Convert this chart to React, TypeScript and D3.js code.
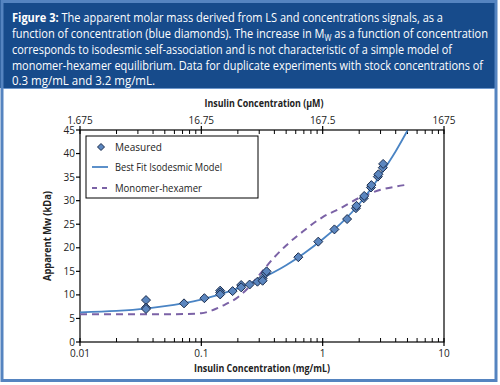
import React from "react";
import * as d3 from "d3";

// ---- data ----
const measuredConc = [0.035, 0.035, 0.035, 0.072, 0.106, 0.143, 0.143, 0.143, 0.181, 0.213, 0.213, 0.25, 0.29, 0.32, 0.32, 0.34, 0.345, 0.63, 0.92, 1.25, 1.59, 1.88, 1.9, 2.18, 2.2, 2.5, 2.52, 2.85, 2.88, 3.13, 3.15];
const measuredMw = [8.9, 7.3, 7.0, 8.2, 9.3, 10.9, 10.5, 10.1, 10.8, 12.1, 11.6, 12.2, 12.8, 13.5, 13.0, 14.6, 15.0, 18.0, 21.3, 23.9, 26.1, 28.4, 28.9, 30.5, 31.0, 32.8, 33.3, 35.1, 35.6, 37.0, 37.8];

const isoConc = [0.01, 0.02, 0.035, 0.05, 0.07, 0.1, 0.15, 0.2, 0.3, 0.5, 0.7, 1.0, 1.5, 2.0, 2.5, 3.0, 4.0, 5.0];
const isoMw = [6.3, 6.6, 7.1, 7.6, 8.2, 9.0, 10.3, 11.4, 13.3, 16.3, 18.8, 21.8, 25.8, 29.3, 32.5, 35.5, 40.5, 44.9];

const hexConc = [0.01, 0.03, 0.06, 0.1, 0.125, 0.15, 0.2, 0.25, 0.3, 0.4, 0.5, 0.69, 0.85, 1.0, 1.4, 2.0, 3.0, 4.0, 5.0];
const hexMw = [5.9, 5.9, 5.9, 6.1, 6.8, 7.7, 9.5, 11.8, 14.2, 18.0, 20.5, 23.5, 25.3, 26.5, 28.4, 30.6, 32.3, 33.0, 33.4];

const yTicks = [0, 5, 10, 15, 20, 25, 30, 35, 40, 45];
const bottomMajor = [0.01, 0.1, 1, 10];
const bottomLabels = ["0.01", "0.1", "1", "10"];
const topMajor = [1.675, 16.75, 167.5, 1675];
const topLabels = ["1.675", "16.75", "167.5", "1675"];
const legendLabels = ["Measured", "Best Fit Isodesmic Model", "Monomer-hexamer"];

const headerLines = [
  "The apparent molar mass derived from LS and concentrations signals, as a",
  "function of concentration (blue diamonds). The increase in M",
  "corresponds to isodesmic self-association and is not characteristic of a simple model of",
  "monomer-hexamer equilibrium. Data for duplicate experiments with stock concentrations of",
  "0.3 mg/mL and 3.2 mg/mL.",
];

const FONT = "'Open Sans', 'Noto Sans', sans-serif";
const LINE_BLUE = "#4a84c4";
const DASH_PURPLE = "#7b62a6";
const DIAMOND_FILL = "#5b86bf";
const DIAMOND_STROKE = "#1c2d4d";

export default function App() {
  const left = 80, right = 444, top = 130, bottom = 342;
  const x = d3.scaleLog().domain([0.01, 10]).range([left, right]);
  const xTop = d3.scaleLog().domain([1.675, 1675]).range([left, right]);
  const y = d3.scaleLinear().domain([0, 45]).range([bottom, top]);

  const line = d3
    .line<[number, number]>()
    .x((d) => x(d[0]))
    .y((d) => y(d[1]))
    .curve(d3.curveMonotoneX);

  const isoPath = line(isoConc.map((c, i) => [c, isoMw[i]]) as [number, number][]) || "";
  const hexPath = line(hexConc.map((c, i) => [c, hexMw[i]]) as [number, number][]) || "";

  const minorBottom: number[] = [];
  for (let dec = 0.01; dec < 10; dec *= 10) {
    for (let k = 2; k <= 9; k++) minorBottom.push(+(dec * k).toPrecision(3));
  }
  const minorTop: number[] = [];
  for (let dec = 1.675; dec < 1675; dec *= 10) {
    for (let k = 2; k <= 9; k++) minorTop.push(dec * k);
  }

  const diamond = (cx: number, cy: number, r: number) =>
    `M${cx},${cy - r}L${cx + r},${cy}L${cx},${cy + r}L${cx - r},${cy}Z`;

  const headerY = [22, 38, 54, 70, 85];
  const adj = "spacingAndGlyphs";

  return (
    <svg
      width={500}
      height={385}
      style={{ position: "absolute", left: 0, top: 0, background: "#fff" }}
      fontFamily={FONT}
    >
      {/* header */}
      <rect x={0} y={0} width={497} height={88} fill="#174b8b" />
      <rect x={2} y={1.5} width={494} height={379} fill="none" stroke="#5584c0" strokeWidth={3} />
      <line x1={3} x2={495} y1={88.5} y2={88.5} stroke="#6d97cc" strokeWidth={1} />
      <g fill="#fff" fontSize={12}>
        <text x={12} y={headerY[0]} textLength={431} lengthAdjust={adj}>
          <tspan fontWeight="bold">Figure 3:</tspan>
          <tspan> {headerLines[0]}</tspan>
        </text>
        <text x={12} y={headerY[1]} textLength={476} lengthAdjust={adj}>
          {headerLines[1]}
          <tspan fontSize={8.2} dy={3}>W</tspan>
          <tspan dy={-3}> as a function of concentration</tspan>
        </text>
        <text x={12} y={headerY[2]} textLength={440} lengthAdjust={adj}>{headerLines[2]}</text>
        <text x={12} y={headerY[3]} textLength={471} lengthAdjust={adj}>{headerLines[3]}</text>
        <text x={12} y={headerY[4]} textLength={143} lengthAdjust={adj}>{headerLines[4]}</text>
      </g>

      {/* plot frame */}
      <rect x={left} y={top} width={right - left} height={bottom - top} fill="none" stroke="#000" strokeWidth={1.2} />

      {/* y axis */}
      <g fontSize={10} fill="#222">
        {yTicks.map((t) => (
          <g key={t}>
            <line x1={left - 4} x2={left} y1={y(t)} y2={y(t)} stroke="#000" strokeWidth={1.2} />
            <text x={left - 5} y={y(t)} dy="0.35em" textAnchor="end">{t}</text>
          </g>
        ))}
      </g>

      {/* bottom axis */}
      <g fontSize={10} fill="#222">
        {minorBottom.map((t, i) => (
          <line key={i} x1={x(t)} x2={x(t)} y1={bottom} y2={bottom - 4} stroke="#000" strokeWidth={1} />
        ))}
        {bottomMajor.map((t, i) => (
          <g key={t}>
            <line x1={x(t)} x2={x(t)} y1={bottom - 4} y2={bottom + 4} stroke="#000" strokeWidth={1.2} />
            <text x={x(t)} y={bottom + 15} textAnchor="middle">{bottomLabels[i]}</text>
          </g>
        ))}
      </g>

      {/* top axis */}
      <g fontSize={10} fill="#222">
        {minorTop.map((t, i) => (
          <line key={i} x1={xTop(t)} x2={xTop(t)} y1={top} y2={top + 4} stroke="#000" strokeWidth={1} />
        ))}
        {topMajor.map((t, i) => (
          <g key={t}>
            <line x1={xTop(t)} x2={xTop(t)} y1={top - 4} y2={top + 4} stroke="#000" strokeWidth={1.2} />
            <text x={xTop(t)} y={top - 6} textAnchor="middle">{topLabels[i]}</text>
          </g>
        ))}
      </g>

      {/* axis titles */}
      <g fontSize={10.5} fontWeight="bold" fill="#222">
        <text x={264} y={107} textAnchor="middle" textLength={119} lengthAdjust={adj}>Insulin Concentration (µM)</text>
        <text x={262} y={372} textAnchor="middle" textLength={136} lengthAdjust={adj}>Insulin Concentration (mg/mL)</text>
        <text transform={`translate(51,236) rotate(-90)`} textAnchor="middle" textLength={90} lengthAdjust={adj}>Apparent Mw (kDa)</text>
      </g>

      {/* curves */}
      <path d={hexPath} fill="none" stroke={DASH_PURPLE} strokeWidth={2} strokeDasharray="7,5" />
      <path d={isoPath} fill="none" stroke={LINE_BLUE} strokeWidth={1.8} />

      {/* measured */}
      {measuredConc.map((c, i) => (
        <path key={i} d={diamond(x(c), y(measuredMw[i]), 4.5)} fill={DIAMOND_FILL} stroke={DIAMOND_STROKE} strokeWidth={1} />
      ))}

      {/* legend */}
      <rect x={86} y={136} width={172} height={62} fill="#fff" stroke="#000" strokeWidth={1} />
      <g fontSize={10.5} fill="#222">
        <path d={diamond(101, 147, 3.5)} fill={DIAMOND_FILL} stroke={DIAMOND_STROKE} strokeWidth={1} />
        <text x={115} y={147} dy="0.35em" textLength={47} lengthAdjust={adj}>{legendLabels[0]}</text>
        <line x1={92} x2={108} y1={167} y2={167} stroke={LINE_BLUE} strokeWidth={1.8} />
        <text x={115} y={167} dy="0.35em" textLength={107} lengthAdjust={adj}>{legendLabels[1]}</text>
        <line x1={92} x2={108} y1={188} y2={188} stroke={DASH_PURPLE} strokeWidth={2} strokeDasharray="5,5" />
        <text x={115} y={188} dy="0.35em" textLength={87} lengthAdjust={adj}>{legendLabels[2]}</text>
      </g>
    </svg>
  );
}
